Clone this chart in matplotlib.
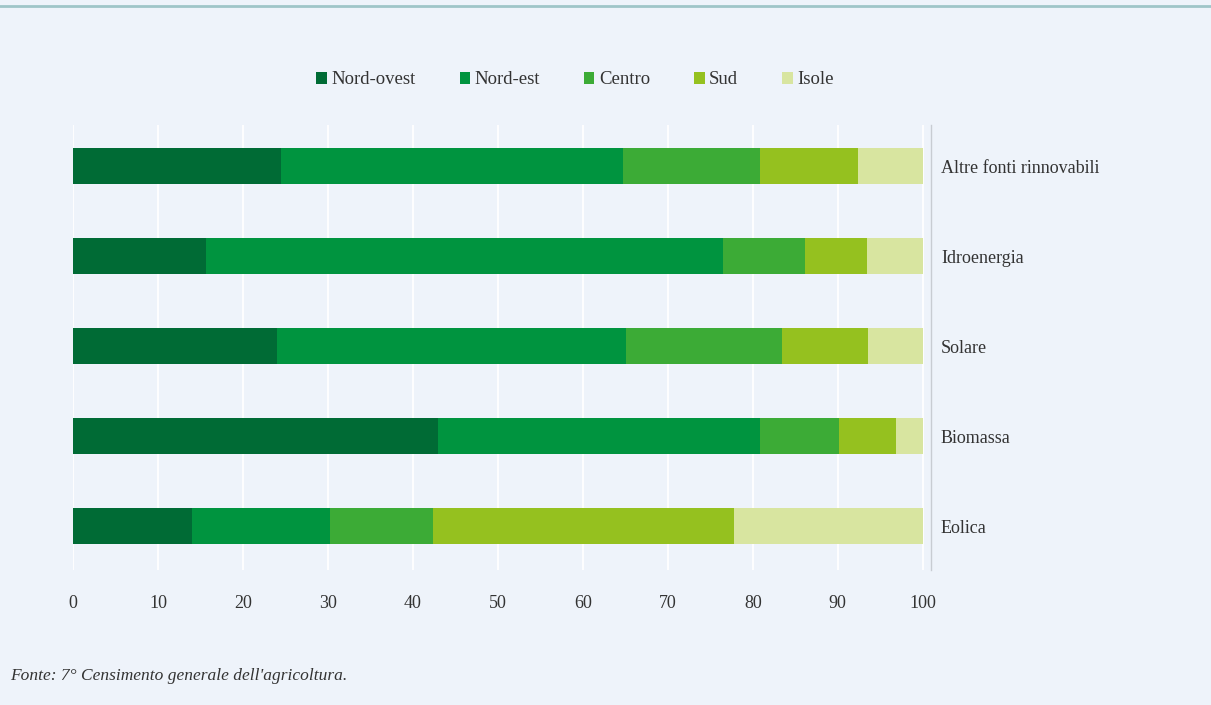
import numpy as np
import matplotlib
matplotlib.use('Agg')
import matplotlib.pyplot as plt
from matplotlib.lines import Line2D

plt.rcParams['font.family'] = ['Liberation Serif', 'DejaVu Serif']

# data (percent shares)
categories = ['Eolica', 'Biomassa', 'Solare', 'Idroenergia', 'Altre fonti rinnovabili']
regions = ['Nord-ovest', 'Nord-est', 'Centro', 'Sud', 'Isole']
nord_ovest = [14.0, 42.9, 24.0, 15.7, 24.5]
nord_est = [16.3, 37.9, 41.1, 60.8, 40.2]
centro = [12.1, 9.3, 18.3, 9.6, 16.1]
sud = [35.4, 6.7, 10.1, 7.3, 11.6]
isole = [22.2, 3.2, 6.5, 6.6, 7.6]

colors = ['#006b35', '#00943f', '#3cab36', '#95c11f', '#d8e5a0']
bg = '#eef3fa'

fig = plt.figure(figsize=(12.11, 7.05), dpi=100, facecolor=bg)
ax = fig.add_axes([0.0603, 0.191, 0.7087, 0.632], facecolor=bg)

y = np.arange(len(categories))
left = np.zeros(len(categories))
for name, vals, c in zip(regions, [nord_ovest, nord_est, centro, sud, isole], colors):
    ax.barh(y, vals, left=left, height=0.4, color=c, label=name, zorder=3)
    left += np.array(vals)

ax.set_xlim(0, 101)
ax.set_ylim(-0.49, 4.46)
ax.set_xticks(np.arange(0, 101, 10))
ax.tick_params(axis='x', length=0, labelsize=13, pad=18, labelcolor='#333333')
ax.yaxis.tick_right()
ax.set_yticks(y)
ax.set_yticklabels(categories)
ax.tick_params(axis='y', length=0, labelsize=13, pad=7, labelcolor='#333333')
ax.grid(axis='x', color='white', lw=1.3, zorder=0)
for s in ['top', 'left', 'bottom']:
    ax.spines[s].set_visible(False)
ax.spines['right'].set_color('#c8ccd2')
ax.spines['right'].set_linewidth(1)

ax.legend(loc='center', bbox_to_anchor=(575 / 1211, 1 - 80 / 705),
          bbox_transform=fig.transFigure, ncol=5, frameon=False,
          handlelength=0.55, handleheight=0.55, handletextpad=0.25,
          columnspacing=2.35, fontsize=13.5, labelcolor='#333333')

# thin rule at the top of the page
fig.add_artist(Line2D([0, 1], [1 - 6 / 705, 1 - 6 / 705], transform=fig.transFigure,
                      color='#9fc5c8', lw=2))

fig.text(10 / 1211, 1 - 676 / 705, "Fonte: 7° Censimento generale dell'agricoltura.",
         fontsize=12.5, style='italic', color='#333333', va='center')

fig.savefig('out.png', dpi=100, facecolor=bg)
